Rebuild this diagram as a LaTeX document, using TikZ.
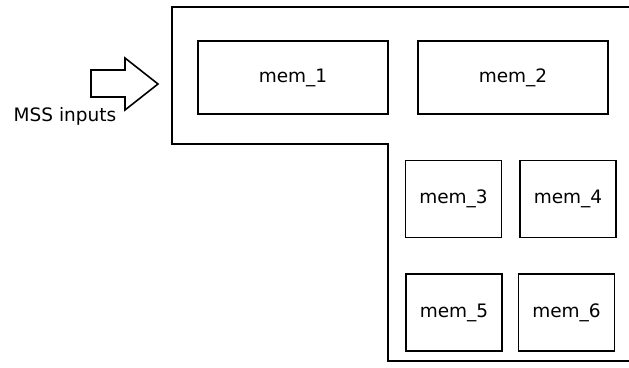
\documentclass[tikz,border=0pt]{standalone}
\usepackage{fontspec}
\setmainfont{DejaVu Sans}
\begin{document}
\begin{tikzpicture}
        [x=1pt,y=-1pt,line width=1.6pt,
         font=\fontsize{18.5}{22}\selectfont,
         membox/.style={draw,rectangle,inner sep=0pt},
         widebox/.style={membox,minimum width=190pt,minimum height=73pt},
         smallbox/.style={membox,minimum width=96pt,minimum height=77pt}]
        \useasboundingbox (0,0) rectangle (629,367);

        % L-shaped memory region, open on the right
        \draw (629,7) -- (172,7) -- (172,144) -- (388,144) -- (388,361) -- (629,361);

        \node[widebox] (mem1) at (293,77.5) {mem\_1};
        \node[widebox] (mem2) at (513,77.5) {mem\_2};

        \node[smallbox] (mem3) at (453.5,199) {mem\_3};
        \node[smallbox] (mem4) at (568,199) {mem\_4};
        \node[smallbox] (mem5) at (454,312.5) {mem\_5};
        \node[smallbox] (mem6) at (566.5,312.5) {mem\_6};

        % input arrow
        \draw (91,70) -- (125,70) -- (125,58) -- (158,84) -- (125,110)
              -- (125,97) -- (91,97) -- cycle;
        \node[anchor=base] (inputs) at (65,121) {MSS inputs};
      \end{tikzpicture}
\end{document}
